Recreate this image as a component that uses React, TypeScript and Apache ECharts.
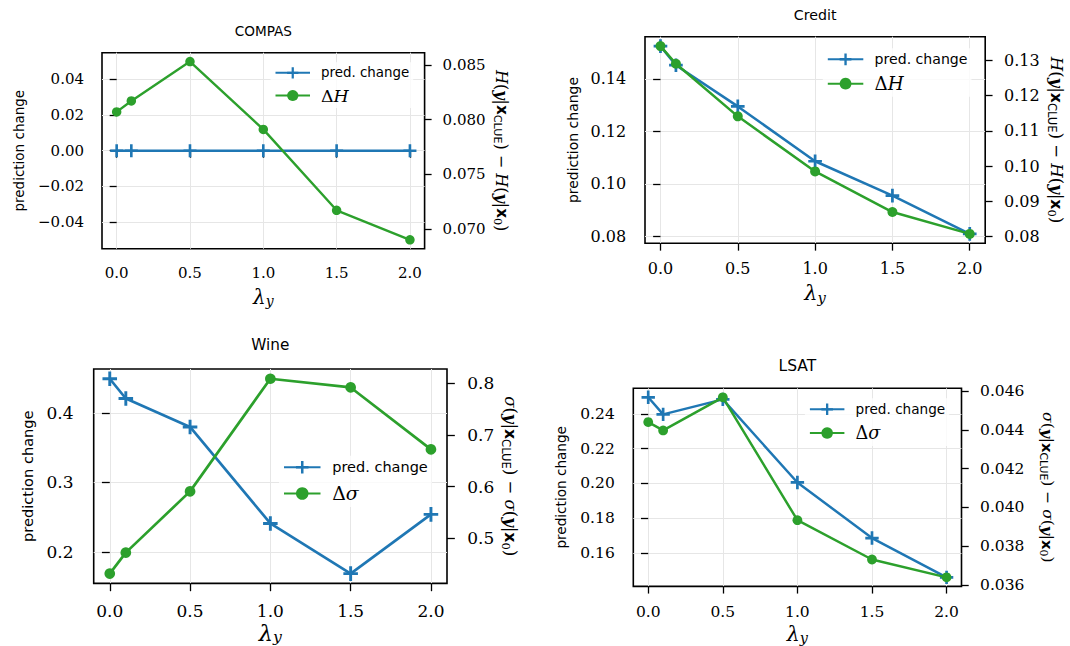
import React, { useEffect, useRef } from 'react';
import * as echarts from 'echarts';

// ---------- data ----------
const lambdas = [0, 0.1, 0.5, 1.0, 1.5, 2.0];
const xTicks = [0, 0.5, 1.0, 1.5, 2.0];

const compasPred = [0, 0, 0, 0, 0, 0];
const compasDeltaH = [0.0807, 0.0817, 0.0853, 0.0791, 0.0717, 0.069];
const compasLeftTicks = [-0.04, -0.02, 0, 0.02, 0.04];
const compasRightTicks = [0.07, 0.075, 0.08, 0.085];

const creditPred = [0.1525, 0.1452, 0.1295, 0.1086, 0.0955, 0.0809];
const creditDeltaH = [0.134, 0.129, 0.1141, 0.0985, 0.087, 0.0808];
const creditLeftTicks = [0.08, 0.1, 0.12, 0.14];
const creditRightTicks = [0.08, 0.09, 0.1, 0.11, 0.12, 0.13];

const winePred = [0.4491, 0.4207, 0.3798, 0.241, 0.1688, 0.254];
const wineDeltaSigma = [0.4319, 0.4724, 0.5907, 0.8083, 0.7915, 0.6718];
const wineLeftTicks = [0.2, 0.3, 0.4];
const wineRightTicks = [0.5, 0.6, 0.7, 0.8];

const lsatPred = [0.2496, 0.2398, 0.2484, 0.2006, 0.1686, 0.146];
const lsatDeltaSigma = [0.0444, 0.04397, 0.04568, 0.03934, 0.03731, 0.03639];
const lsatLeftTicks = [0.14, 0.16, 0.18, 0.2, 0.22, 0.24];
const lsatRightTicks = [0.036, 0.038, 0.04, 0.042, 0.044, 0.046];

const titles = ['COMPAS', 'Credit', 'Wine', 'LSAT'];
const predName = 'pred. change';
const leftAxisName = 'prediction change';

// ---------- styles / layout ----------
const BLUE = '#1f77b4';
const GREEN = '#2ca02c';
const PLUS = 'path://M0.4,0H0.6V0.4H1V0.6H0.6V1H0.4V0.6H0V0.4H0.4Z';
const SERIF = 'DejaVu Serif';

const panels = [
  {
    title: titles[0], pred: compasPred, delta: compasDeltaH, sym: 'H',
    lt: compasLeftTicks, rt: compasRightTicks, ld: 2, rd: 3,
    grid: { left: 102, top: 52.7, width: 322.6, height: 196 },
    tickFs: 15, legFs: 13.4, yNameFs: 13.5, titleFs: 13.6, titleCy: 32, rNameFs: 16,
    leg: { left: 270.5, top: 62.3, w: 34.5, gap: 7.7 },
    xMargin: 17, xNameGap: 37, lGap: 76, rGap: 67, s: 1.0,
  },
  {
    title: titles[1], pred: creditPred, delta: creditDeltaH, sym: 'H',
    lt: creditLeftTicks, rt: creditRightTicks, ld: 2, rd: 2,
    grid: { left: 645, top: 36.7, width: 340.2, height: 206.6 },
    tickFs: 16, legFs: 14.1, yNameFs: 14, titleFs: 14.2, titleCy: 15.7, rNameFs: 16.5,
    leg: { left: 822.8, top: 48.3, w: 35.5, gap: 8.4 },
    xMargin: 16.7, xNameGap: 38.5, lGap: 65, rGap: 61, s: 1.05,
  },
  {
    title: titles[2], pred: winePred, delta: wineDeltaSigma, sym: 'σ',
    lt: wineLeftTicks, rt: wineRightTicks, ld: 1, rd: 1,
    grid: { left: 93.7, top: 369, width: 353.3, height: 214.7 },
    tickFs: 17, legFs: 14.5, yNameFs: 14.6, titleFs: 15.3, titleCy: 346, rNameFs: 16.5,
    leg: { left: 279, top: 455.7, w: 36.5, gap: 9.3 },
    xMargin: 19, xNameGap: 37, lGap: 59, rGap: 53, s: 1.12,
  },
  {
    title: titles[3], pred: lsatPred, delta: lsatDeltaSigma, sym: 'σ',
    lt: lsatLeftTicks, rt: lsatRightTicks, ld: 2, rd: 3,
    grid: { left: 633.3, top: 388.3, width: 328.2, height: 199.4 },
    tickFs: 15.5, legFs: 13.6, yNameFs: 13.6, titleFs: 15.5, titleCy: 366.7, rNameFs: 15.5,
    leg: { left: 804.9, top: 398.3, w: 34.5, gap: 7.7 },
    xMargin: 17.8, xNameGap: 36, lGap: 65, rGap: 76, s: 1.03,
  },
];

function rangeOf(vals: number[]): [number, number] {
  let lo = Math.min(...vals);
  let hi = Math.max(...vals);
  if (hi - lo === 0) { lo -= 0.05; hi += 0.05; }
  const m = (hi - lo) * 0.05;
  return [lo - m, hi + m];
}

function fmt(v: number, d: number): string {
  const s = Math.abs(v).toFixed(d);
  return v < -1e-12 ? '\u2212' + s : s;
}

function rightName(sym: string): string {
  return `{it|${sym}}{n|(}{by|y}{n||}{bx|x}{sub|CLUE}{n|)}{n| \u2212 }{it|${sym}}{n|(}{by|y}{n||}{bx|x}{sub0|0}{n|)}`;
}

function rightRich(fs: number) {
  const lh = fs * 1.3;
  return {
    it: { fontFamily: SERIF, fontStyle: 'italic', fontSize: fs, lineHeight: lh, color: '#000' },
    n: { fontFamily: SERIF, fontSize: fs, lineHeight: lh, color: '#000' },
    by: { fontFamily: SERIF, fontStyle: 'italic', fontWeight: 'bold', fontSize: fs, lineHeight: lh, color: '#000' },
    bx: { fontFamily: 'DejaVu Sans', fontWeight: 'bold', fontSize: fs * 0.95, lineHeight: lh, color: '#000' },
    sub: { fontFamily: 'DejaVu Sans', fontSize: fs * 0.7, lineHeight: fs * 0.95, verticalAlign: 'bottom', color: '#000' },
    sub0: { fontFamily: SERIF, fontSize: fs * 0.7, lineHeight: fs * 0.95, verticalAlign: 'bottom', color: '#000' },
  };
}

function buildOption() {
  const grid: any[] = [];
  const xAxis: any[] = [];
  const yAxis: any[] = [];
  const series: any[] = [];
  const legend: any[] = [];
  const title: any[] = [];

  panels.forEach((p, i) => {
    const g = p.grid;
    grid.push({
      left: g.left, top: g.top, width: g.width, height: g.height,
      show: true, borderColor: '#000', borderWidth: 1.6, backgroundColor: 'transparent',
      containLabel: false,
    });
    title.push({
      text: p.title,
      left: g.left + g.width / 2,
      top: p.titleCy - p.titleFs / 2 - 1,
      textAlign: 'center',
      padding: 0,
      textStyle: { fontFamily: 'DejaVu Sans', fontSize: p.titleFs, fontWeight: 'normal', color: '#000' },
    });
    const tickStyle = { show: true, length: 7 * p.s, lineStyle: { color: '#000', width: 1.3 } };
    xAxis.push({
      type: 'value', gridIndex: i, min: -0.1, max: 2.1,
      axisLine: { show: false },
      axisTick: { ...tickStyle, customValues: xTicks },
      axisLabel: {
        customValues: xTicks, formatter: (v: number) => v.toFixed(1),
        fontFamily: SERIF, fontSize: p.tickFs, color: '#000', margin: p.xMargin,
      },
      splitLine: { show: true, lineStyle: { color: '#e6e6e6', width: 1 } },
      name: '{l|λ}{ys|y}', nameLocation: 'middle', nameGap: p.xNameGap,
      nameTextStyle: {
        rich: {
          l: { fontFamily: SERIF, fontStyle: 'italic', fontSize: 20 * p.s, lineHeight: 22 * p.s, color: '#000' },
          ys: { fontFamily: SERIF, fontStyle: 'italic', fontSize: 14 * p.s, lineHeight: 12 * p.s, verticalAlign: 'bottom', color: '#000' },
        },
      },
    });
    const [lmin, lmax] = rangeOf(p.pred);
    const [rmin, rmax] = rangeOf(p.delta);
    yAxis.push({
      type: 'value', gridIndex: i, position: 'left', min: lmin, max: lmax,
      axisLine: { show: false },
      axisTick: { ...tickStyle, customValues: p.lt },
      axisLabel: {
        customValues: p.lt, formatter: (v: number) => fmt(v, p.ld),
        fontFamily: SERIF, fontSize: p.tickFs, color: '#000', margin: 18 * p.s,
      },
      splitLine: { show: true, lineStyle: { color: '#e6e6e6', width: 1 } },
      name: leftAxisName, nameLocation: 'middle', nameRotate: 90, nameGap: p.lGap,
      nameTextStyle: { fontFamily: 'DejaVu Sans', fontSize: p.yNameFs, color: '#000' },
    });
    yAxis.push({
      type: 'value', gridIndex: i, position: 'right', min: rmin, max: rmax,
      axisLine: { show: false },
      axisTick: { ...tickStyle, customValues: p.rt },
      axisLabel: {
        customValues: p.rt, formatter: (v: number) => fmt(v, p.rd),
        fontFamily: SERIF, fontSize: p.tickFs, color: '#000', margin: 18 * p.s,
      },
      splitLine: { show: false },
      name: rightName(p.sym), nameLocation: 'middle', nameRotate: -90, nameGap: p.rGap,
      nameTextStyle: { rich: rightRich(p.rNameFs) },
    });
    const deltaName = 'Δ' + p.sym;
    series.push({
      type: 'line', name: predName, xAxisIndex: i, yAxisIndex: 2 * i,
      data: lambdas.map((x, j) => [x, p.pred[j]]),
      symbol: PLUS, symbolSize: 13 * p.s, showSymbol: true, clip: false,
      lineStyle: { color: BLUE, width: 2.4 * p.s }, itemStyle: { color: BLUE },
      z: 2,
    });
    series.push({
      type: 'line', name: deltaName, xAxisIndex: i, yAxisIndex: 2 * i + 1,
      data: lambdas.map((x, j) => [x, p.delta[j]]),
      symbol: 'circle', symbolSize: 9.5 * p.s, showSymbol: true, clip: false,
      lineStyle: { color: GREEN, width: 2.4 * p.s }, itemStyle: { color: GREEN },
      z: 3,
    });
    legend.push({
      orient: 'vertical', left: p.leg.left, top: p.leg.top,
      data: [predName, deltaName], selectedMode: false,
      itemWidth: p.leg.w, itemHeight: 14 * p.s, itemGap: p.leg.gap,
      padding: 4, backgroundColor: 'rgba(255,255,255,0.8)',
      formatter: (name: string) =>
        name === predName ? '{g| }' + name : '{g| }{d|Δ}{i|' + name.slice(1) + '}',
      textStyle: {
        fontFamily: 'DejaVu Sans', fontSize: p.legFs, color: '#000',
        rich: {
          g: { width: 6 * p.s },
          d: { fontFamily: SERIF, fontSize: p.legFs * 1.3, color: '#000' },
          i: { fontFamily: SERIF, fontStyle: 'italic', fontSize: p.legFs * 1.3, color: '#000' },
        },
      },
    });
  });

  return {
    animation: false,
    backgroundColor: '#ffffff',
    title, grid, xAxis, yAxis, series, legend,
  };
}

export default function App() {
  const ref = useRef<HTMLDivElement>(null);
  useEffect(() => {
    document.body.style.margin = '0';
    if (!ref.current) return;
    const chart = echarts.init(ref.current, undefined, { renderer: 'svg' });
    chart.setOption(buildOption() as any);
    return () => chart.dispose();
  }, []);
  return (
    <div
      ref={ref}
      style={{ position: 'absolute', left: 0, top: 0, width: 1070, height: 646, background: '#fff' }}
    />
  );
}
